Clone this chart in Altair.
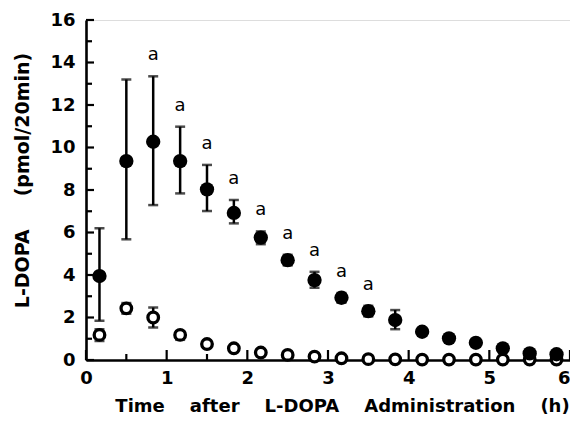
import altair as alt
import pandas as pd

# Time points (h)
times = [0.167, 0.5, 0.833, 1.167, 1.5, 1.833, 2.167, 2.5, 2.833, 3.167,
         3.5, 3.833, 4.167, 4.5, 4.833, 5.167, 5.5, 5.833]

# Filled series (with treatment)
filled_mean = [3.95, 9.36, 10.27, 9.36, 8.03, 6.92, 5.76, 4.70, 3.76, 2.93,
               2.30, 1.88, 1.33, 1.02, 0.81, 0.55, 0.31, 0.27]
filled_lo = [1.85, 5.68, 7.29, 7.84, 7.01, 6.43, 5.45, 4.45, 3.40, 2.70,
             2.05, 1.45, 1.15, 0.90, 0.70, 0.45, 0.20, 0.15]
filled_hi = [6.20, 13.20, 13.35, 10.98, 9.18, 7.53, 6.05, 4.95, 4.15, 3.15,
             2.55, 2.35, 1.50, 1.15, 0.95, 0.65, 0.40, 0.35]
# significance flag ("a")
sig = [0, 0, 1, 1, 1, 1, 1, 1, 1, 1, 1, 0, 0, 0, 0, 0, 0, 0]

# Open series (control)
open_mean = [1.18, 2.43, 2.00, 1.18, 0.75, 0.55, 0.35, 0.24, 0.16, 0.08,
             0.04, 0.03, 0.02, 0.02, 0.02, 0.02, 0.02, 0.02]
open_lo = [0.90, 2.18, 1.53, 0.95, 0.62, 0.45, 0.27, 0.17, 0.10, 0.03,
           0.00, 0.00, 0.00, 0.00, 0.00, 0.00, 0.00, 0.00]
open_hi = [1.45, 2.68, 2.47, 1.35, 0.88, 0.65, 0.43, 0.31, 0.22, 0.13,
           0.08, 0.06, 0.04, 0.04, 0.04, 0.04, 0.04, 0.04]

x_major = [0, 1, 2, 3, 4, 5, 6]
x_minor = [0.5, 1.5, 2.5, 3.5, 4.5, 5.5]
y_major = [0, 2, 4, 6, 8, 10, 12, 14, 16]
y_minor = [1, 3, 5, 7, 9, 11, 13, 15]

W, H = 484, 340

filled = pd.DataFrame({"t": times, "m": filled_mean, "lo": filled_lo,
                       "hi": filled_hi, "sig": sig})
opened = pd.DataFrame({"t": times, "m": open_mean, "lo": open_lo, "hi": open_hi})
both = pd.concat([opened.assign(g="open"),
                  filled.drop(columns="sig").assign(g="filled")],
                 ignore_index=True)

xs = alt.Scale(domain=[0, 6], nice=False, zero=False)
ys = alt.Scale(domain=[0, 16], nice=False)

FONT = "DejaVu Sans"
NB = "\u00a0"
x_axis = alt.Axis(values=x_major, format="d", labelFlush=False, grid=False,
                  ticks=False, domainWidth=2.6,
                  labelAlign={"condition": {"test": "datum.value == 6",
                                            "value": "right"},
                              "value": "center"},
                  domainColor="black", labelFont=FONT, labelFontWeight="bold",
                  labelFontSize=18, labelColor="black", labelPadding=9,
                  title=f"Time{NB*4}after{NB*4}L-DOPA{NB*4}Administration{NB*4}(h)",
                  titleFont=FONT, titleFontWeight="bold", titleFontSize=18,
                  titleColor="black", titleX=256, titleY=51,
                  titleAlign="center", titleBaseline="alphabetic")
y_axis = alt.Axis(values=y_major, format="d", labelFlush=False, grid=False,
                  ticks=False, domainWidth=2.6,
                  domainColor="black", labelFont=FONT, labelFontWeight="bold",
                  labelFontSize=18, labelColor="black", labelPadding=11,
                  title=f"L-DOPA{NB*5}(pmol/20min)",
                  titleFont=FONT, titleFontWeight="bold", titleFontSize=19,
                  titleColor="black", titleX=-64, titleY=160, titleAngle=-90,
                  titleAlign="center", titleBaseline="middle")

# Error bars (also carry the axes)
bars = alt.Chart(both).mark_rule(color="black", strokeWidth=2.5).encode(
    x=alt.X("t:Q", scale=xs, axis=x_axis),
    y=alt.Y("lo:Q", scale=ys, axis=y_axis),
    y2="hi:Q",
)
caps_top = alt.Chart(both).mark_tick(color="black", thickness=2.5, size=10,
                                     orient="horizontal").encode(
    x=alt.X("t:Q", scale=xs), y=alt.Y("hi:Q", scale=ys))
caps_bot = alt.Chart(both).mark_tick(color="black", thickness=2.5, size=10,
                                     orient="horizontal").encode(
    x=alt.X("t:Q", scale=xs), y=alt.Y("lo:Q", scale=ys))

ytick_maj = alt.Chart(pd.DataFrame({"v": y_major})).mark_rule(
    color="black", strokeWidth=2.2).encode(
    y=alt.Y("v:Q", scale=ys), x=alt.value(0), x2=alt.value(8))
ytick_min = alt.Chart(pd.DataFrame({"v": y_minor})).mark_rule(
    color="black", strokeWidth=2.2).encode(
    y=alt.Y("v:Q", scale=ys), x=alt.value(0), x2=alt.value(6))
xtick_maj = alt.Chart(pd.DataFrame({"v": x_major})).mark_rule(
    color="black", strokeWidth=2.2).encode(
    x=alt.X("v:Q", scale=xs), y=alt.value(H), y2=alt.value(H - 10))
xtick_min = alt.Chart(pd.DataFrame({"v": x_minor})).mark_rule(
    color="black", strokeWidth=2.2).encode(
    x=alt.X("v:Q", scale=xs), y=alt.value(H), y2=alt.value(H - 6))

filled_pts = alt.Chart(filled).mark_circle(color="black", opacity=1,
                                           size=205).encode(
    x=alt.X("t:Q", scale=xs), y=alt.Y("m:Q", scale=ys))
open_pts = alt.Chart(opened).mark_point(shape="circle", fill="white",
                                        filled=False, stroke="black",
                                        strokeWidth=3.3, opacity=1,
                                        fillOpacity=1, size=112).encode(
    x=alt.X("t:Q", scale=xs), y=alt.Y("m:Q", scale=ys))

labels = alt.Chart(filled).transform_filter("datum.sig == 1").mark_text(
    text="a", font=FONT, fontSize=18, color="black", dy=-21,
    baseline="middle", align="center").encode(
    x=alt.X("t:Q", scale=xs), y=alt.Y("hi:Q", scale=ys))

chart = alt.layer(bars, caps_top, caps_bot, ytick_maj, ytick_min, xtick_maj,
                  xtick_min, open_pts, filled_pts, labels).properties(
    width=W, height=H,
    autosize=alt.AutoSizeParams(type="none"),
    padding={"left": 78, "top": 12, "right": 0, "bottom": 54},
).configure_view(stroke=None).configure(background="white")

chart.save("out.html", embed_options={"renderer": "svg", "actions": False})
